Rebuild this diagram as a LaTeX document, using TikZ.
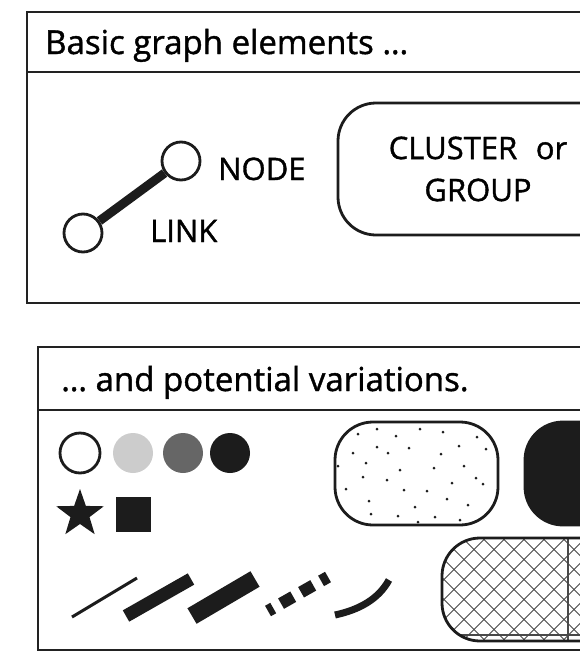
\documentclass[tikz,border=0pt]{standalone}
\usepackage{xcolor}
\usepackage{fontspec}
\setmainfont{Open Sans}[FakeBold=1.2]
\usetikzlibrary{shapes.geometric,positioning}
\definecolor{inkblack}{HTML}{1C1C1C}
\definecolor{framegray}{HTML}{222222}
\definecolor{lightfill}{HTML}{CCCCCC}
\definecolor{midfill}{HTML}{666666}

\begin{document}
\begin{tikzpicture}[
  x=1pt,y=-1pt,
  panel/.style={framegray,line width=2.6pt},
  heading/.style={anchor=base west,inner sep=0pt,font=\fontsize{33}{36}\selectfont},
  label/.style={anchor=base west,inner sep=0pt,font=\fontsize{31}{36}\selectfont},
  gnode/.style={circle,draw=inkblack,line width=2.8pt,fill=white,minimum size=38pt,inner sep=0pt},
  dot/.style={circle,fill=inkblack,minimum size=40pt,inner sep=0pt},
  cluster/.style={draw=inkblack,line width=2.8pt,rounded corners=38pt,inner sep=0pt},
  hatch/.style={inkblack!80,line width=1pt},
  bar/.style={inkblack,line cap=butt}
]
  \clip (0,0) rectangle (580,651);

  % top panel
  \draw[panel] (27,12) rectangle (640,303);
  \draw[panel] (27,72) -- (640,72);
  \node[heading] (title) at (45,54) {Basic graph elements …};

  \node[gnode] (hi) at (181,161) {};
  \node[gnode] (lo) at (83,233) {};
  \draw[inkblack,line width=9pt] (lo) -- (hi);
  \node[label] (nodetxt) at (218,180) {NODE};
  \node[label] (linktxt) at (150,242) {LINK};

  \node[cluster,fill=white,minimum width=280pt,minimum height=132pt,align=center,
    font=\fontsize{31}{42}\selectfont] (group) at (478,169)
    {CLUSTER\hspace{.6em}or\\GROUP};

  % bottom panel
  \draw[panel] (38,347) rectangle (640,650);
  \draw[panel] (38,410) -- (640,410);
  \node[heading] (title2) at (61,391) {… and potential variations.};

  \node[gnode,minimum size=40pt] (white) at (80,453) {};
  \node[dot,fill=lightfill] (light) at (133,453) {};
  \node[dot,fill=midfill] (mid) at (183,453) {};
  \node[dot] (black) at (230,453) {};
  \node[star,star points=5,star point ratio=2.5,fill=inkblack,minimum size=50pt,inner sep=0pt] (star) at (80,514) {};
  \node[rectangle,fill=inkblack,minimum size=35pt,inner sep=0pt] (square) at (133,514) {};

  \draw[bar,line width=3pt] (72,617) -- (137,578);
  \draw[bar,line width=13pt] (126,616) -- (191,579);
  \draw[bar,line width=18pt] (192,616) -- (255,579);
  \draw[bar,line width=12pt,dash pattern=on 14pt off 9pt,dash phase=8pt] (268,611) -- (328,577);
  \draw[bar,line width=7pt] (335,615) .. controls (358,610) and (378,600) .. (389,580);

  \node[cluster,fill=white,minimum width=163pt,minimum height=103pt] (dotted) at (416.5,473.5) {};
  \foreach \px/\py in {358/434,377/429,396/436,420/429,443/432,477/437,353/453,377/447,
    388/453,409/448,441/454,459/446,486/449,338/466,366/463,400/470,434/468,464/466,
    363/477,387/480,452/483,476/478,483/484,346/489,404/490,427/491,369/501,447/499,
    468/505,415/507,371/514,398/516,418/522,435/517,460/520}
    \fill[inkblack] (\px,\py) circle (1.5pt);

  \node[cluster,fill=inkblack,minimum width=140pt,minimum height=103pt] (filled) at (595,473.5) {};

  % hatch drawn relative to the node centre
  \node[cluster,fill=white,minimum width=200pt,minimum height=103pt,
    path picture={
      \foreach \k in {-220,-200,...,140} {
        \draw[hatch] (\k,-52) -- ++(104,104);
        \draw[hatch] (\k,52) -- ++(104,-104);
      }
      \draw[hatch,line width=1.4pt] (26,-52) -- (26,52);
      \draw[hatch,line width=1.4pt] (-100,45.5) -- (100,45.5);
    }] (hatched) at (542,589.5) {};
\end{tikzpicture}
\end{document}
